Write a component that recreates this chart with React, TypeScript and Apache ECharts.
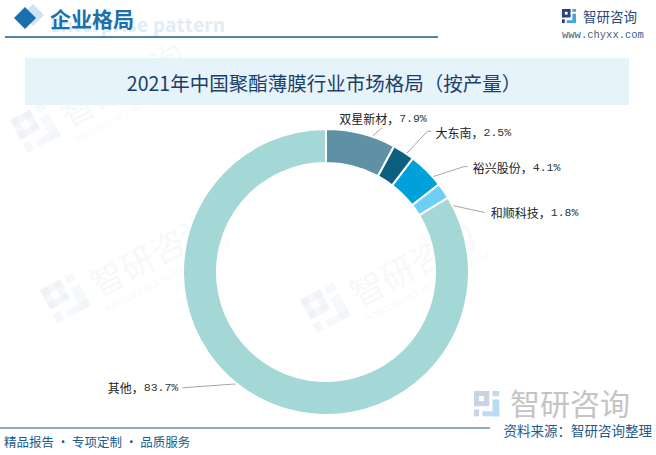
import React, { useEffect, useRef } from "react";
import * as echarts from "echarts";

const categories = ["双星新材", "大东南", "裕兴股份", "和顺科技", "其他"];
const shareValues = [7.9, 2.5, 4.1, 1.8, 83.7];
const sliceColors = ["#5e90a6", "#0b5f7f", "#00a1db", "#6dcff6", "#a3d8d6"];

const TITLE = "2021年中国聚酯薄膜行业市场格局（按产量）";

const CX = 326;
const CY = 272;
const R_IN = 109;
const R_OUT = 143;
const R_MID = (R_IN + R_OUT) / 2;

// label placement: line vector from mid-ring point, tail, text anchor
const labelPlacement = [
  { dx: 25, dy: -22, tail: 0, align: "center", vAlign: "bottom", tx: 1, ty: -3 },
  { dx: 33, dy: -35, tail: 4, align: "left", vAlign: "middle", tx: 4, ty: 1 },
  { dx: 49, dy: -16, tail: 4, align: "left", vAlign: "middle", tx: 5, ty: 1 },
  { dx: 55, dy: 12, tail: 0, align: "left", vAlign: "middle", tx: 6, ty: 0 },
  { dx: -82, dy: 6, tail: 0, align: "right", vAlign: "middle", tx: -4, ty: 0 },
];

function logoIcon(x: number, y: number, s: number, dark: string, light: string, opacity = 1) {
  const u = s / 16;
  const r = (rx: number, ry: number, w: number, h: number, c: string) => ({
    type: "rect",
    shape: { x: x + rx * u, y: y + ry * u, width: w * u, height: h * u },
    style: { fill: c, opacity },
    silent: true,
  });
  return [
    r(0, 0, 9, 3, dark),
    r(6, 0, 3, 8, dark),
    r(0, 6, 9, 3, dark),
    r(0, 0, 3, 9, dark),
    r(0, 11, 3, 4, dark),
    r(11, 0, 4, 3, light),
    r(11, 5, 4, 10, light),
    r(5, 12, 10, 3, light),
  ];
}

function watermark(x: number, y: number) {
  return {
    type: "group",
    x,
    y,
    rotation: (28 * Math.PI) / 180,
    silent: true,
    z: -10,
    children: [
      ...logoIcon(0, 0, 40, "#e6ebf2", "#e8f1f9", 0.45),
      {
        type: "text",
        x: 48,
        y: 20,
        style: {
          text: "智研咨询",
          fontSize: 34,
          fontFamily: "Noto Sans CJK SC",
          fill: "#eceff3",
          opacity: 0.45,
          verticalAlign: "middle",
        },
      },
      {
        type: "text",
        x: 48,
        y: 48,
        style: {
          text: "INTELLIGENCE RESEARCH GROUP",
          fontSize: 9,
          fontFamily: "Noto Sans",
          fill: "#eceff3",
          opacity: 0.45,
          verticalAlign: "middle",
        },
      },
    ],
  };
}

export default function App() {
  const ref = useRef<HTMLDivElement>(null);
  useEffect(() => {
    if (!ref.current) return;
    const chart = echarts.init(ref.current, undefined, { renderer: "svg" });
    const total = shareValues.reduce((a, b) => a + b, 0);
    const cum: number[] = [];
    let acc = 0;
    shareValues.forEach((v) => {
      cum.push(acc);
      acc += v;
    });

    const option: any = {
      animation: false,
      backgroundColor: "#ffffff",
      graphic: [
        watermark(10, 120),
        watermark(40, 290),
        watermark(300, 300),
        // header
        {
          type: "text",
          x: 50,
          y: 25,
          silent: true,
          style: {
            text: "Enterprise pattern",
            fontSize: 19,
            fontWeight: "bold",
            fontFamily: "Noto Sans",
            fill: "#e1edf7",
            verticalAlign: "middle",
          },
        },
        {
          type: "polygon",
          silent: true,
          shape: { points: [[33, 4], [44, 15], [33, 26], [22, 15]] },
          style: { fill: "#cfe3f2" },
        },
        {
          type: "polygon",
          silent: true,
          shape: { points: [[25, 7], [36, 18], [25, 29], [14, 18]] },
          style: { fill: "#1c6fae" },
        },
        {
          type: "text",
          x: 50,
          y: 18,
          silent: true,
          style: {
            text: "企业格局",
            fontSize: 21,
            fontWeight: "bold",
            fontFamily: "Noto Sans CJK SC",
            fill: "#1c6fad",
            verticalAlign: "middle",
          },
        },
        {
          type: "line",
          silent: true,
          shape: { x1: 5, y1: 37, x2: 438, y2: 37 },
          style: { stroke: "#1d5b8c", lineWidth: 1.5 },
        },
        ...logoIcon(562, 9, 15, "#27407f", "#4aa3dc"),
        {
          type: "text",
          x: 583,
          y: 16,
          silent: true,
          style: {
            text: "智研咨询",
            fontSize: 13.5,
            fontFamily: "Noto Sans CJK SC",
            fill: "#1f4a7f",
            verticalAlign: "middle",
          },
        },
        {
          type: "text",
          x: 562,
          y: 35,
          silent: true,
          style: {
            text: "www.chyxx.com",
            fontSize: 10.5,
            fontFamily: "Liberation Mono",
            fill: "#3d5f85",
            verticalAlign: "middle",
          },
        },
        // title band
        {
          type: "rect",
          silent: true,
          shape: { x: 25, y: 58, width: 604, height: 47 },
          style: { fill: "#e7f3fb" },
        },
        {
          type: "text",
          x: 324,
          y: 82,
          silent: true,
          style: {
            text: TITLE,
            fontSize: 19.5,
            fontFamily: "Noto Sans CJK SC",
            fill: "#1a4068",
            align: "center",
            verticalAlign: "middle",
          },
        },
        // footer
        ...logoIcon(474, 391, 27, "#c9d3e3", "#b9dcf2"),
        {
          type: "text",
          x: 510,
          y: 402,
          silent: true,
          style: {
            text: "智研咨询",
            fontSize: 30,
            fontFamily: "Noto Sans CJK SC",
            fill: "#c4c4c4",
            verticalAlign: "middle",
          },
        },
        {
          type: "line",
          silent: true,
          shape: { x1: 0, y1: 428, x2: 490, y2: 428 },
          style: { stroke: "#1d5b8c", lineWidth: 1.2 },
        },
        {
          type: "text",
          x: 4,
          y: 441,
          silent: true,
          style: {
            text: "精品报告 · 专项定制 · 品质服务",
            fontSize: 12.5,
            fontFamily: "Noto Sans CJK SC",
            fill: "#1a5a8c",
            verticalAlign: "middle",
          },
        },
        {
          type: "text",
          x: 652,
          y: 430,
          silent: true,
          style: {
            text: "资料来源：智研咨询整理",
            fontSize: 13.5,
            fontFamily: "Noto Sans CJK SC",
            fill: "#1a5a8f",
            align: "right",
            verticalAlign: "middle",
          },
        },
      ],
      series: [
        {
          type: "pie",
          center: [CX, CY],
          radius: [R_IN, R_OUT],
          startAngle: 90,
          clockwise: true,
          avoidLabelOverlap: false,
          emphasis: { disabled: true },
          itemStyle: { borderColor: "#ffffff", borderWidth: 2 },
          data: categories.map((name, i) => ({
            name,
            value: shareValues[i],
            itemStyle: { color: sliceColors[i] },
          })),
          label: {
            show: true,
            position: "outside",
            formatter: (p: any) => `{a|${p.name}，}{n|${p.value.toFixed(1)}%}`,
            rich: {
              a: { fontSize: 12, fontFamily: "Noto Sans CJK SC", color: "#222222" },
              n: { fontSize: 11.5, fontFamily: "Liberation Mono", color: "#333333" },
            },
          },
          labelLine: {
            show: true,
            lineStyle: { color: "#a6a6a6", width: 1 },
          },
          labelLayout: (params: any) => {
            const i = params.dataIndex;
            const mid = ((cum[i] + shareValues[i] / 2) / total) * Math.PI * 2;
            const sx = CX + R_MID * Math.sin(mid);
            const sy = CY - R_MID * Math.cos(mid);
            const p = labelPlacement[i];
            const ex = sx + p.dx;
            const ey = sy + p.dy;
            const ex2 = ex + (p.dx >= 0 ? p.tail : -p.tail);
            return {
              x: ex2 + p.tx,
              y: ey + p.ty,
              align: p.align,
              verticalAlign: p.vAlign,
              labelLinePoints: [
                [sx, sy],
                [ex, ey],
                [ex2, ey],
              ],
            };
          },
        },
      ],
    };
    chart.setOption(option);
    return () => chart.dispose();
  }, []);
  return (
    <div
      ref={ref}
      style={{ position: "fixed", left: 0, top: 0, width: 656, height: 455 }}
    />
  );
}
